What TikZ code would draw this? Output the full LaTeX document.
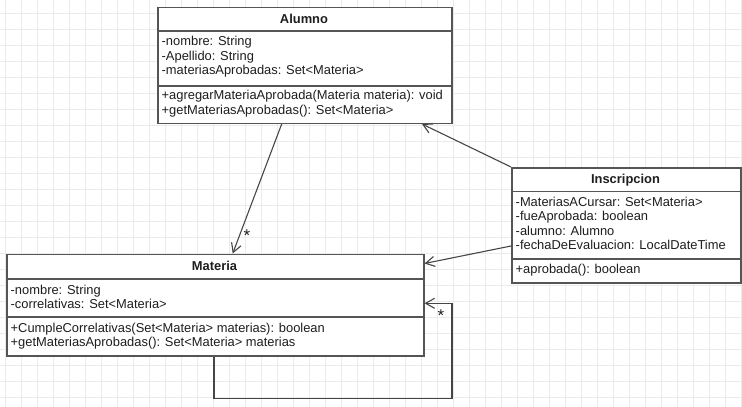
\documentclass[tikz,border=0pt]{standalone}
\usepackage{fontspec}
\setmainfont{Liberation Sans}
\usetikzlibrary{arrows.meta}
\definecolor{gridc}{RGB}{235,235,235}
\definecolor{boxc}{RGB}{85,85,85}
\definecolor{linec}{RGB}{70,70,70}
\definecolor{txtc}{RGB}{30,30,30}
\tikzset{
  umlbox/.style={draw=boxc, line width=1.5pt, fill=white, anchor=north west, inner sep=0pt},
  sepline/.style={draw=boxc, line width=1.5pt},
  mem/.style={anchor=base west, inner sep=0pt, text=txtc, font=\fontsize{12.9}{14}\selectfont},
  ttl/.style={anchor=base, inner sep=0pt, text=txtc, font=\fontsize{12.9}{14}\selectfont\bfseries},
  conn/.style={draw=linec, line width=1.1pt, -{Straight Barb[length=9pt,width=10pt]}},
  mult/.style={inner sep=0pt, text=txtc, font=\fontsize{17}{18}\selectfont}
}
\begin{document}
\begin{tikzpicture}[x=1pt,y=-1pt]
\useasboundingbox (0,0) rectangle (742,407);
\fill[white] (0,0) rectangle (742,407);
% grid
\foreach \i in {0,...,46} {\draw[gridc, line width=1.4pt] (5.7+16*\i,0) -- (5.7+16*\i,407);}
\foreach \j in {0,...,25} {\draw[gridc, line width=1.4pt] (0,13.7+16*\j) -- (742,13.7+16*\j);}

% Alumno
\node[umlbox, minimum width=294pt, minimum height=116pt] (alumno) at (157,6.5) {};
\draw[sepline] (157,31) -- (451,31);
\draw[sepline] (157,86) -- (451,86);
\node[ttl] (alt) at (304,23) {Alumno};
\node[mem] (al1) at (161.5,45.5) {-nombre: String};
\node[mem] (al2) at (161.5,60) {-Apellido: String};
\node[mem] (al3) at (161.5,74.5) {-materiasAprobadas: Set<Materia>};
\node[mem] (al4) at (161.5,99.5) {+agregarMateriaAprobada(Materia materia): void};
\node[mem] (al5) at (161.5,114) {+getMateriasAprobadas(): Set<Materia>};

% Inscripcion
\node[umlbox, minimum width=229pt, minimum height=115pt] (insc) at (511,167) {};
\draw[sepline] (511,191.5) -- (740,191.5);
\draw[sepline] (511,259) -- (740,259);
\node[ttl] (int) at (625.5,183.5) {Inscripcion};
\node[mem] (in1) at (515.5,206) {-MateriasACursar: Set<Materia>};
\node[mem] (in2) at (515.5,220.5) {-fueAprobada: boolean};
\node[mem] (in3) at (515.5,235) {-alumno: Alumno};
\node[mem] (in4) at (515.5,249.5) {-fechaDeEvaluacion: LocalDateTime};
\node[mem] (in5) at (515.5,273.5) {+aprobada(): boolean};

% Materia
\node[umlbox, minimum width=417pt, minimum height=101.5pt] (materia) at (6,253.5) {};
\draw[sepline] (6,279) -- (423,279);
\draw[sepline] (6,317) -- (423,317);
\node[ttl] (mat) at (214.5,270.5) {Materia};
\node[mem] (ma1) at (10.5,294) {-nombre: String};
\node[mem] (ma2) at (10.5,308.5) {-correlativas: Set<Materia>};
\node[mem] (ma3) at (10.5,332) {+CumpleCorrelativas(Set<Materia> materias): boolean};
\node[mem] (ma4) at (10.5,346.5) {+getMateriasAprobadas(): Set<Materia> materias};

% connectors
\draw[conn] ([xshift=124.7pt]alumno.south west) -- ([xshift=226.7pt]materia.north west);
\node[mult] (m1) at (247,236) {*};
\draw[conn] (insc.north west) -- ([xshift=265pt]alumno.south west);
\draw[conn] ([yshift=-79pt]insc.north west) -- ([yshift=-10pt]materia.north east);
\coordinate (loopc) at (452,303.3);
\draw[conn] ([xshift=208pt]materia.south west) -- ++(0,42.3) -| (loopc) -- ([yshift=-49.8pt]materia.north east);
\node[mult] (m2) at (441,315.5) {*};
\end{tikzpicture}
\end{document}
